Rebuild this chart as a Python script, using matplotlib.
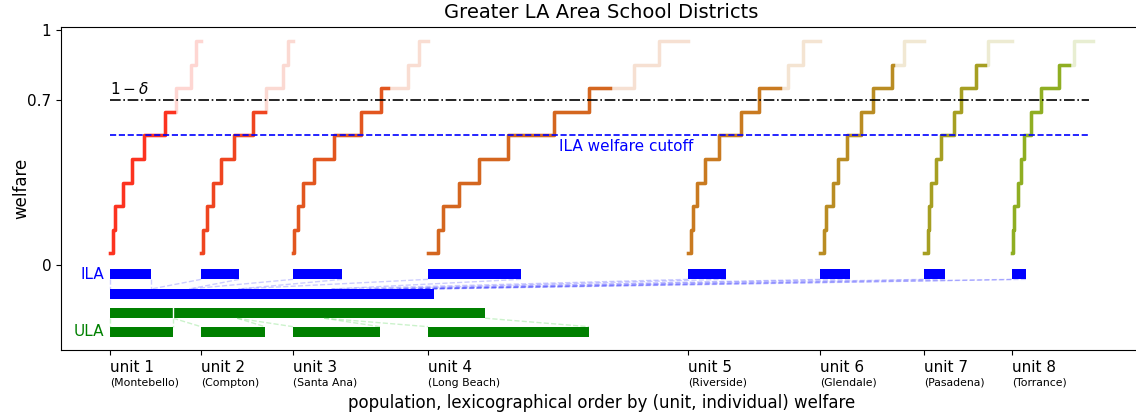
import numpy as np
import matplotlib
matplotlib.use("Agg")
import matplotlib.pyplot as plt

# units (school districts), population sizes per unit
units = ["unit 1", "unit 2", "unit 3", "unit 4", "unit 5", "unit 6", "unit 7", "unit 8"]
districts = ["Montebello", "Compton", "Santa Ana", "Long Beach",
             "Riverside", "Glendale", "Pasadena", "Torrance"]
unit_pop = [91, 92, 135, 260, 132, 104, 88, 81]

# welfare levels of the staircase and where (within each unit) the level jumps
levels = [0.05, 0.15, 0.25, 0.35, 0.45, 0.55, 0.65, 0.75, 0.85, 0.95]
jumps = [
    [3, 5, 13, 22, 34, 55, 66, 81, 86],
    [2, 6, 12, 20, 33, 52, 65, 82, 87],
    [1, 5, 10, 21, 41, 68, 88, 115, 126],
    [10, 15, 31, 51, 80, 126, 161, 206, 231],
    [3, 5, 9, 17, 31, 53, 71, 100, 115],
    [4, 6, 13, 18, 27, 41, 53, 72, 84],
    [4, 5, 7, 12, 17, 30, 37, 52, 64],
    [1, 2, 6, 9, 12, 19, 29, 47, 62],
]

# people selected by each allocation, per unit
ila_pop = [41, 38, 49, 93, 38, 30, 21, 14]
ula_pop = [63, 64, 87, 161, 0, 0, 0, 0]

delta = 0.3
ila_cutoff = 0.55

colors = ["#fc3320", "#ef4520", "#e2561f", "#d4661f",
          "#c97a20", "#b98c23", "#a69f22", "#8fae22"]


def staircase(start, size, jmp):
    xs = [start]
    ys = [levels[0]]
    for i, j in enumerate(jmp):
        xs += [start + j, start + j]
        ys += [levels[i], levels[i + 1]]
    xs.append(start + size)
    ys.append(levels[-1])
    return np.array(xs, dtype=float), np.array(ys)


starts = np.concatenate([[0], np.cumsum(unit_pop)[:-1]])
total = sum(unit_pop)

fig = plt.figure(figsize=(11.36, 4.17), dpi=100)
ax = fig.add_axes([61 / 1136, 67 / 417, 1081 / 1136, 323.3 / 417])

for k in range(len(units)):
    xs, ys = staircase(starts[k], unit_pop[k], jumps[k])
    ax.plot(xs, ys, color=colors[k], lw=2.5, alpha=0.2)
    # bottom 1-delta of each unit drawn solid
    split = starts[k] + (1 - delta) * unit_pop[k]
    keep = xs <= split
    xs_s = np.append(xs[keep], split)
    ys_s = np.append(ys[keep], ys[keep][-1])
    ax.plot(xs_s, ys_s, color=colors[k], lw=2.5)

ax.hlines(1 - delta, 0, 0.996 * total, colors="k", linestyles="-.", lw=1.2)
ax.hlines(ila_cutoff, 0, 0.996 * total, colors="blue", linestyles="--", lw=1.2)
ax.text(0, 1 - delta + 0.012, r"$1-\delta$", fontsize=11, va="bottom", ha="left")
ax.text(0.457 * total, ila_cutoff - 0.015, "ILA welfare cutoff", color="blue",
        fontsize=11, va="top", ha="left")

# allocation bars
h = 0.042
y_ila, y_ila_all, y_ula_all, y_ula = -0.04, -0.123, -0.205, -0.283

ila_left = np.concatenate([[0], np.cumsum(ila_pop)[:-1]])
ula_left = np.concatenate([[0], np.cumsum(ula_pop)[:-1]])

for k in range(len(units)):
    if ila_pop[k] > 0:
        ax.barh(y_ila, ila_pop[k], left=starts[k], height=h, color="blue")
        for dx in (0, ila_pop[k]):
            ax.plot([starts[k] + dx, ila_left[k] + dx], [y_ila - h / 2, y_ila_all + h / 2],
                    color="blue", alpha=0.2, lw=1, ls="--")
    if ula_pop[k] > 0:
        ax.barh(y_ula, ula_pop[k], left=starts[k], height=h, color="green")
        for dx in (0, ula_pop[k]):
            ax.plot([ula_left[k] + dx, starts[k] + dx], [y_ula_all - h / 2, y_ula + h / 2],
                    color="limegreen", alpha=0.25, lw=1, ls="--")

ax.barh(y_ila_all, sum(ila_pop), left=0, height=h, color="blue")
ax.barh(y_ula_all, sum(ula_pop), left=0, height=h, color="green")
ax.plot([ula_pop[0], ula_pop[0]], [y_ula_all - h / 2, y_ula_all + h / 2], color="white", lw=1)

ax.text(-6, y_ila, "ILA", color="blue", fontsize=11, ha="right", va="center")
ax.text(-6, y_ula, "ULA", color="green", fontsize=11, ha="right", va="center")

ax.set_xlim(-0.05 * total, 1.05 * total)
ax.set_ylim(-0.361, 1.012)
ax.set_xticks(starts, units, ha="left", fontsize=11)
ax.set_yticks([0, 0.7, 1], ["0", "0.7", "1"], fontsize=11)
for k in range(len(units)):
    ax.annotate("(" + districts[k] + ")", xy=(starts[k], 0), xycoords=("data", "axes fraction"),
                xytext=(0, -20), textcoords="offset points", fontsize=7.8, ha="left", va="top")

ax.set_title("Greater LA Area School Districts", fontsize=14)
ax.set_ylabel("welfare", fontsize=12)
ax.set_xlabel("population, lexicographical order by (unit, individual) welfare", fontsize=12)
ax.xaxis.set_label_coords(0.5, -0.135)
ax.yaxis.set_label_coords(-0.028, 0.5)

fig.savefig("out.png", dpi=100)
